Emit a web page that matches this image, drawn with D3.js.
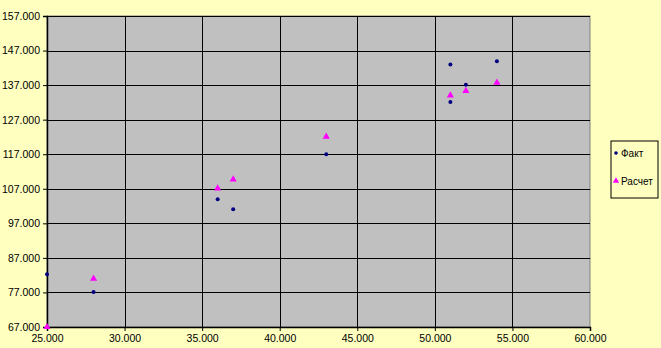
<!DOCTYPE html>
<html lang="ru">
  <head>
    <meta charset="UTF-8" />
    <script src="https://d3js.org/d3.v7.min.js"></script>
    <style>
      body { margin: 0; background: #ffffc0; }
      text { font-family: "Liberation Sans", Arial, sans-serif; }
    </style>
  </head>
  <body>
    <div id="chart"></div>
    <script>
      // data
      const factX = [25, 28, 36, 37, 43, 51, 54, 52, 51];
      const factY = [82.3, 77.1, 104, 101.1, 117, 143, 143.9, 137.1, 132.1];
      const calcX = [25, 28, 36, 37, 43, 51, 52, 54];
      const calcY = [67, 81, 107.1, 109.7, 122.1, 134, 135.3, 137.7];
      const xTicks = [25, 30, 35, 40, 45, 50, 55, 60];
      const yTicks = [67, 77, 87, 97, 107, 117, 127, 137, 147, 157];
      const seriesNames = ["Факт", "Расчет"];

      const W = 661, H = 348;
      const margin = { top: 16, right: 71, bottom: 21, left: 47 };
      const width = W - margin.left - margin.right,
        height = H - margin.top - margin.bottom;

      const svg = d3
        .select("#chart")
        .append("svg")
        .attr("width", W)
        .attr("height", H);

      svg.append("rect").attr("width", W).attr("height", H).attr("fill", "#ffffc0");

      const g = svg.append("g").attr("transform", `translate(${margin.left}, ${margin.top})`);

      const x = d3.scaleLinear().domain([25, 60]).range([0, width]);
      const y = d3.scaleLinear().domain([67, 157]).range([height, 0]);

      // plot area
      g.append("rect")
        .attr("width", width)
        .attr("height", height)
        .attr("fill", "#c0c0c0")
        .attr("stroke", "#808080")
        .attr("stroke-width", 1);

      // grid
      g.append("g")
        .selectAll("line")
        .data(xTicks.slice(1, -1))
        .join("line")
        .attr("x1", (d) => Math.round(x(d)) + 0.5)
        .attr("x2", (d) => Math.round(x(d)) + 0.5)
        .attr("y1", 0)
        .attr("y2", height)
        .attr("stroke", "#000");
      g.append("g")
        .selectAll("line")
        .data(yTicks.slice(1))
        .join("line")
        .attr("x1", 0)
        .attr("x2", width)
        .attr("y1", (d) => Math.round(y(d)) + 0.5)
        .attr("y2", (d) => Math.round(y(d)) + 0.5)
        .attr("stroke", "#000");

      // axes
      const xAxis = g
        .append("g")
        .attr("transform", `translate(0, ${height})`)
        .call(d3.axisBottom(x).tickValues(xTicks).tickSize(4).tickPadding(4).tickFormat((d) => d + ".000"));
      const yAxis = g
        .append("g")
        .call(d3.axisLeft(y).tickValues(yTicks).tickSize(4).tickPadding(3).tickFormat((d) => d + ".000"));
      [xAxis, yAxis].forEach((a) => {
        a.selectAll("text").style("font-size", "10.5px").attr("fill", "#000");
        a.selectAll("line, path").attr("stroke", "#000");
        a.select(".domain").attr("stroke-width", 1.5);
      });

      // series
      const fact = factX.map((v, i) => ({ x: v, y: factY[i] }));
      const calc = calcX.map((v, i) => ({ x: v, y: calcY[i] }));

      const tri = d3.symbol().type(d3.symbolTriangle).size(22);

      g.append("g")
        .selectAll("path")
        .data(calc)
        .join("path")
        .attr("d", tri)
        .attr("transform", (d) => `translate(${x(d.x)}, ${y(d.y)})`)
        .attr("fill", "#ff00ff");

      g.append("g")
        .selectAll("circle")
        .data(fact)
        .join("circle")
        .attr("cx", (d) => x(d.x))
        .attr("cy", (d) => y(d.y))
        .attr("r", 2)
        .attr("fill", "#000080");

      // legend
      const lg = svg.append("g").attr("transform", "translate(611, 141)");
      lg.append("rect")
        .attr("width", 47)
        .attr("height", 57)
        .attr("fill", "#ffffc0")
        .attr("stroke", "#000");
      lg.append("circle").attr("cx", 5).attr("cy", 12).attr("r", 1.8).attr("fill", "#000080");
      lg.append("path").attr("d", tri.size(18)).attr("transform", "translate(5, 40)").attr("fill", "#ff00ff");
      lg.selectAll("text.lbl")
        .data(seriesNames)
        .join("text")
        .attr("class", "lbl")
        .attr("x", 10)
        .attr("y", (d, i) => (i === 0 ? 16 : 44))
        .style("font-size", "10px")
        .text((d) => d);
    </script>
  </body>
</html>
